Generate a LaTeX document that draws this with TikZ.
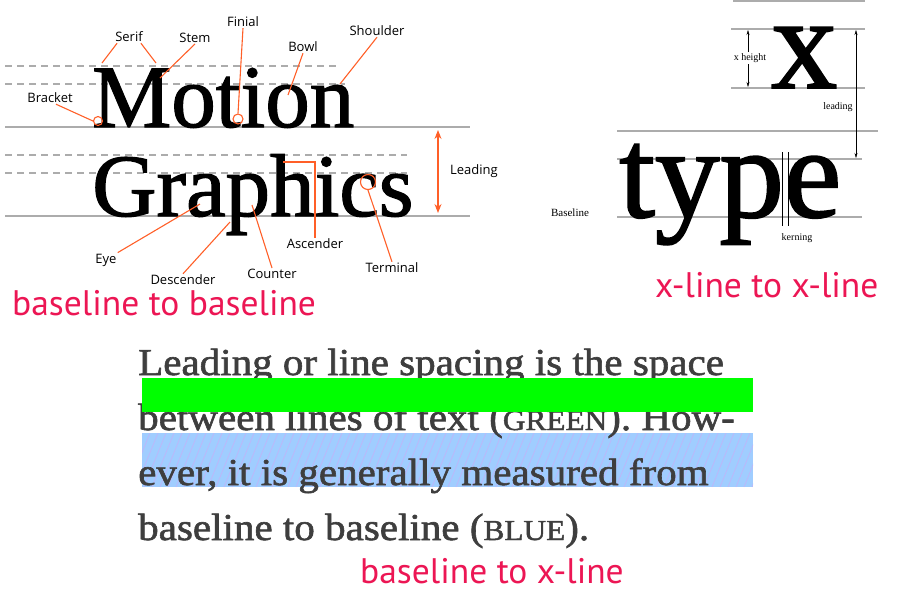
\documentclass[tikz,border=0pt]{standalone}
\usepackage{fontspec}
\setmainfont{Liberation Serif}
\newfontfamily\lblfont{Open Sans}
\newfontfamily\notefont{PT Sans}
\newfontfamily\glyphfont[FakeBold=1.4]{Liberation Serif}
\newfontfamily\parafont[FakeBold=1.6,FakeStretch=1.08]{Liberation Serif}
\definecolor{tyorange}{RGB}{255,95,40}
\definecolor{typink}{RGB}{236,22,84}
\definecolor{tygray}{RGB}{172,172,172}
\definecolor{tygreen}{RGB}{0,255,0}
\definecolor{tyblue}{RGB}{160,205,255}
\definecolor{tyhatch}{RGB}{210,165,245}
\definecolor{tytext}{RGB}{62,62,62}
\usetikzlibrary{arrows.meta,positioning,calc}

\begin{document}
\begin{tikzpicture}[x=1pt, y=-1pt,
  lbl/.style={font=\lblfont\fontsize{13}{13}\selectfont, inner sep=1pt},
  ptr/.style={draw=tyorange, line width=1.1pt},
  ring/.style={draw=tyorange, line width=1.1pt, circle, inner sep=0pt},
  guide/.style={draw=tygray, line width=1.3pt},
  dguide/.style={draw=tygray, line width=1.3pt, dash pattern=on 7pt off 5pt},
  glyph/.style={anchor=base west, inner sep=0pt},
  serifnote/.style={font=\fontsize{10}{10}\selectfont, inner sep=1pt},
  note/.style={anchor=base west, inner sep=0pt, text=typink, font=\notefont\fontsize{35.5}{35.5}\selectfont},
  para/.style={anchor=base west, inner sep=0pt, text=tytext, font=\parafont\fontsize{38}{38}\selectfont}
]
  \useasboundingbox (0,0) rectangle (900,600);

  %% Guide lines of the anatomy sample
  \draw[dguide] (5,66) -- (340,66);
  \draw[dguide] (5,84) -- (345,84);
  \draw[guide]  (5,127) -- (470,127);
  \draw[dguide] (5,155) -- (407,155);
  \draw[dguide] (5,173) -- (407,173);
  \draw[guide]  (5,216) -- (470,216);

  %% Sample words
  \node[glyph] (motion)   at (92,127) {\glyphfont\fontsize{89}{89}\selectfont Motion};
  \node[glyph] (graphics) at (92,216) {\glyphfont\fontsize{89}{89}\selectfont Graphics};

  %% Anatomy labels
  \node[lbl] (serif)      at (129,37)  {Serif};
  \node[lbl] (stem)       at (195,38)  {Stem};
  \node[lbl] (finial)     at (243,22)  {Finial};
  \node[lbl] (bowl)       at (303,47)  {Bowl};
  \node[lbl] (shoulder)   at (377,31)  {Shoulder};
  \node[lbl] (bracket)    at (50,98)   {Bracket};
  \node[lbl] (ascender)   at (315,244) {Ascender};
  \node[lbl] (terminal)   at (392,268) {Terminal};
  \node[lbl] (eye)        at (106,260) {Eye};
  \node[lbl] (descender)  at (183,280) {Descender};
  \node[lbl] (counter)    at (272,274) {Counter};
  \node[lbl] (leadinglbl) at (474,171) {Leading};

  %% Marked spots on the glyphs
  \node[ring, minimum size=9pt]  (bracketring)  at (98,121)  {};
  \node[ring, minimum size=10pt] (finialring)   at (238,119) {};
  \node[ring, minimum size=15pt] (terminalring) at (368,182) {};
  \coordinate (serifa)  at (102,63);
  \coordinate (serifb)  at (156,63);
  \coordinate (stemtip) at (160,78);
  \coordinate (bowltip) at (288,95);
  \coordinate (shldtip) at (340,84);
  \coordinate (asctip)  at (283,162);
  \coordinate (eyetip)  at (200,204);
  \coordinate (desctip) at (230,222);
  \coordinate (cnttip)  at (252,205);
  \coordinate (leadtop) at (438,130);
  \coordinate (leadbot) at (438,213);

  \draw[ptr] ([xshift=3pt]serif.south west) -- (serifa);
  \draw[ptr] ([xshift=-3pt]serif.south east) -- (serifb);
  \draw[ptr] (stem.south) -- (stemtip);
  \draw[ptr] (finial.south) -- (finialring.north);
  \draw[ptr] (bowl.south) -- (bowltip);
  \draw[ptr] (shoulder.south) -- (shldtip);
  \draw[ptr] ([xshift=6pt]bracket.south) -- (bracketring.west);
  \draw[ptr] (ascender.north) |- (asctip);
  \draw[ptr] (terminal.north) -- (terminalring.south);
  \draw[ptr] (eye.north east) -- (eyetip);
  \draw[ptr] (descender.north) -- (desctip);
  \draw[ptr] (counter.north) -- (cnttip);
  \draw[ptr, {Stealth[length=9pt,width=7pt]}-{Stealth[length=9pt,width=7pt]}] (leadtop) -- (leadbot);

  %% x height / leading sample
  \draw[guide] (733,1) -- (865,1);
  \draw[guide] (731,29) -- (865,29);
  \draw[guide] (731,88) -- (865,88);
  \draw[guide] (617,131) -- (878,131);
  \draw[guide] (617,159) -- (862,159);
  \draw[guide] (617,217) -- (862,217);

  \node[glyph, text height=60pt, text depth=0pt] (xglyph) at (771,88) {\glyphfont\fontsize{132}{132}\selectfont x};
  \node[glyph, text height=78pt, text depth=14pt] (type) at (619,217) {\glyphfont\fontsize{129}{129}\selectfont type};

  \coordinate (xtop)  at (748,30);
  \coordinate (xbot)  at (748,87);
  \coordinate (ldtop) at (856,30);
  \coordinate (ldbot) at (856,158);
  \draw[-{Stealth[length=5pt,width=3pt]}, thin] (748,58) -- (xtop);
  \draw[-{Stealth[length=5pt,width=3pt]}, thin] (748,58) -- (xbot);
  \draw[{Stealth[length=5pt,width=3pt]}-{Stealth[length=5pt,width=3pt]}, thin] (ldtop) -- (ldbot);
  \node[serifnote, fill=white] (xheight) at (750,58)  {x height};
  \node[serifnote, fill=white] (leading) at (838,107) {leading};
  \node[serifnote, font=\fontsize{11}{11}\selectfont] (baseline) at (570,213) {Baseline};

  \coordinate (kerna) at (782,152);
  \coordinate (kernb) at (788,152);
  \draw[thin] (kerna) -- ++(0,74);
  \draw[thin] (kernb) -- ++(0,74);
  \node[serifnote] (kerning) at (797,238) {kerning};

  %% Paragraph sample
  \fill[tyblue] (142,433) rectangle (753,487);
  \begin{scope}
    \clip (142,433) rectangle (753,487);
    \foreach \hx in {120,128,...,760}
      \draw[tyhatch, opacity=0.6, line width=0.7pt] (\hx,487) -- ++(22,-54);
  \end{scope}

  \node[para] (line1) at (138,375) {Leading or line spacing is the space};
  \node[para] (line2) at (138,430) {between lines of text ({\fontsize{29}{29}\selectfont GREEN}). How-};
  \node[para] (line3) at (138,485) {ever, it is generally measured from};
  \node[para] (line4) at (138,540) {baseline to baseline ({\fontsize{29}{29}\selectfont BLUE}).};

  \fill[tygreen] (142,378) rectangle (753,412);

  %% Measurement notes
  \node[note] (bbnote) at (12,315)  {baseline to baseline};
  \node[note] (xxnote) at (655,297) {x-line to x-line};
  \node[note] (bxnote) at (360,583) {baseline to x-line};
\end{tikzpicture}
\end{document}
